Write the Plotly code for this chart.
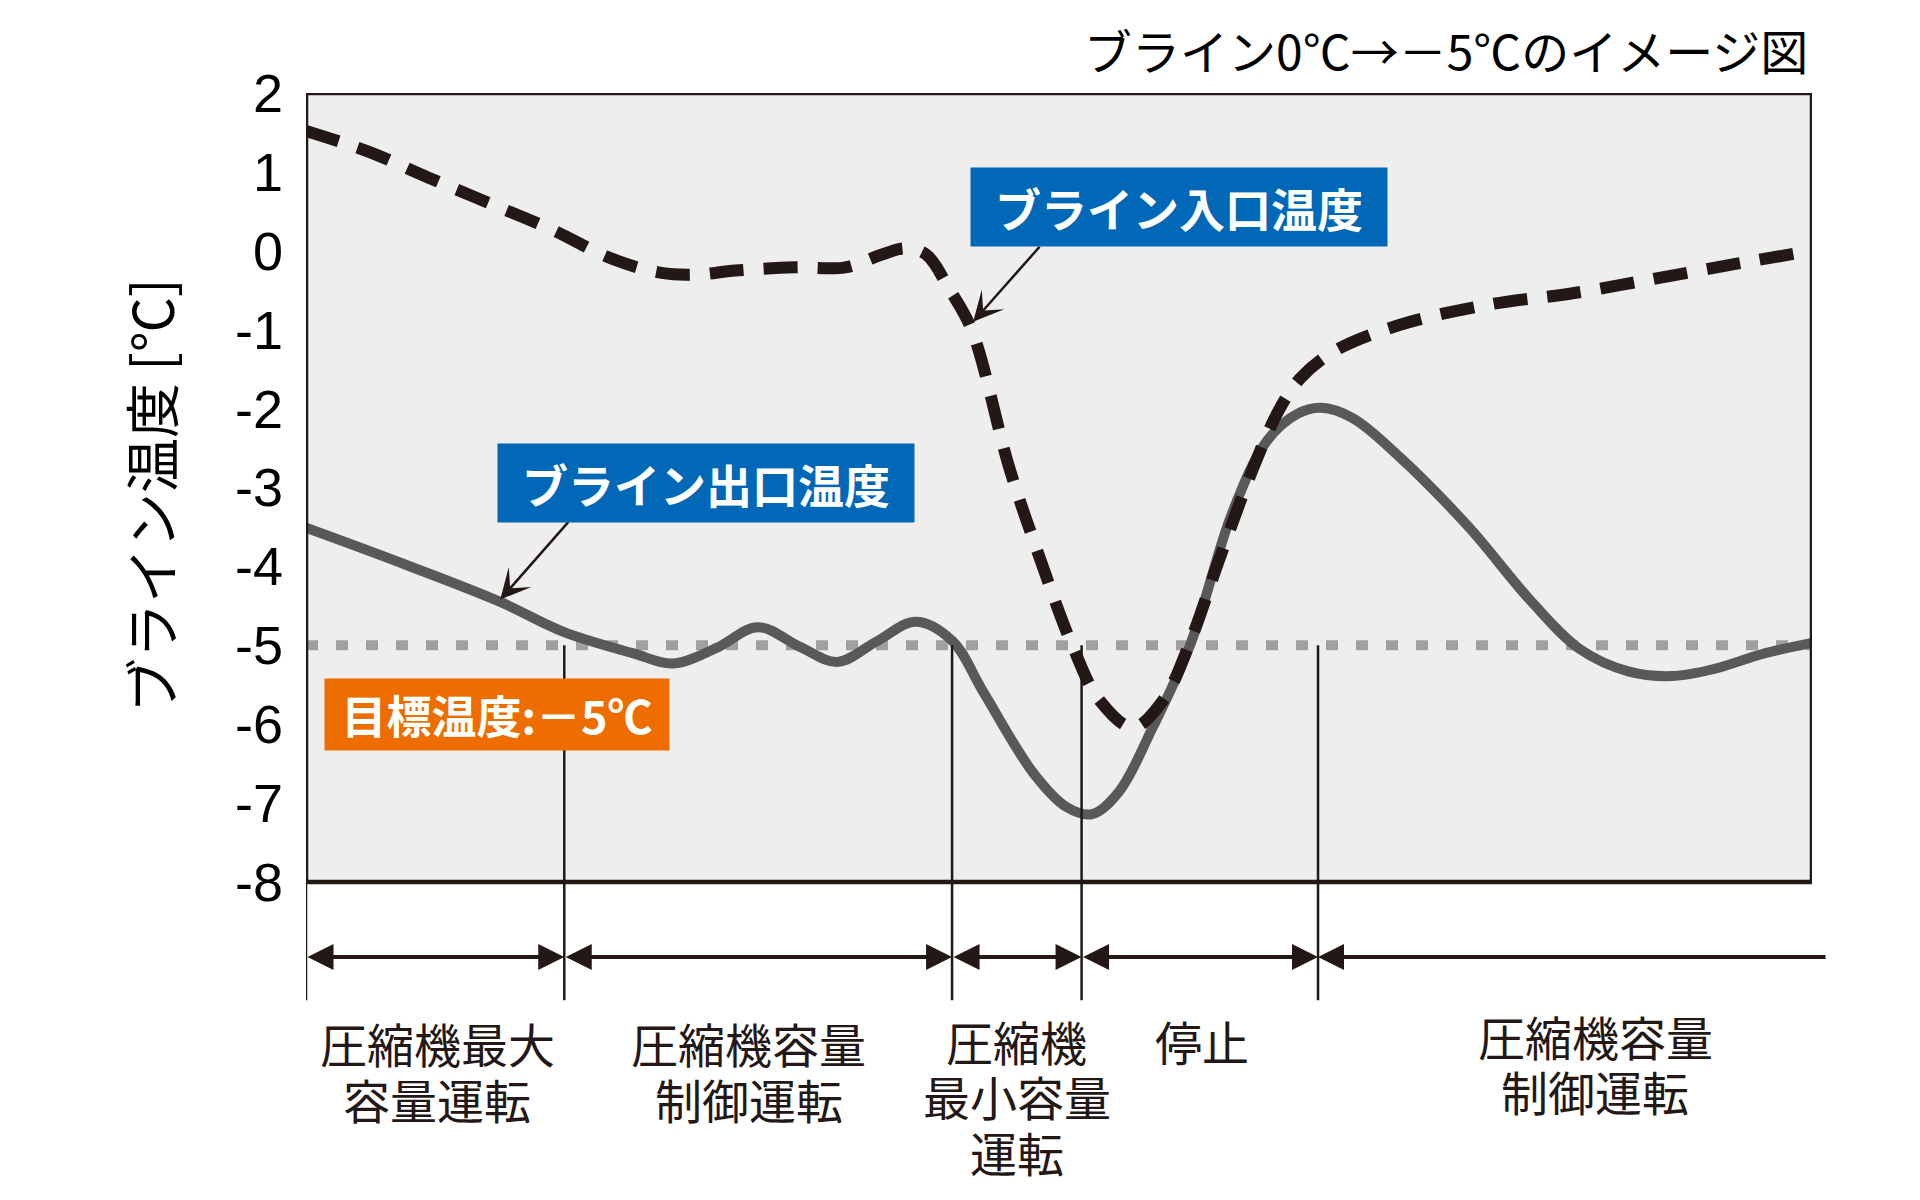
import plotly.graph_objects as go

# ---------------- data ----------------
outlet_x = [0, 6.5, 12.9, 17.1, 21.7, 24.4, 27.3, 30.0, 32.8, 35.3, 37.9, 40.5, 42.9, 45.0,
            48.3, 50.5, 52.2, 54.0, 56.2, 58.7, 61.5, 63.8, 65.8, 67.4, 69.5, 72.6, 77.2,
            81.3, 84.6, 87.8, 90.7, 93.5, 96.7, 100]
outlet_y = [-3.51, -3.97, -4.45, -4.83, -5.10, -5.23, -5.03, -4.77, -5.02, -5.21, -4.95, -4.70,
            -4.94, -5.60, -6.62, -7.05, -7.14, -6.85, -6.05, -5.00, -3.32, -2.41, -2.07, -1.99,
            -2.12, -2.61, -3.50, -4.43, -5.05, -5.33, -5.39, -5.30, -5.11, -4.97]

inlet_x = [0, 4.1, 8.1, 12.2, 16.3, 20.3, 23.6, 26.0, 28.5, 32.5, 35.8, 38.2, 39.8, 41.2,
           42.7, 44.2, 46.7, 48.7, 50.9, 52.7, 54.9, 56.9, 58.7, 60.7, 62.9, 64.6, 66.0,
           68.2, 72.6, 78.9, 83.7, 89.4, 95.1, 100]
inlet_y = [1.52, 1.26, 0.93, 0.60, 0.27, -0.10, -0.28, -0.30, -0.25, -0.21, -0.21, -0.05,
           0.03, -0.05, -0.48, -1.00, -2.75, -3.88, -5.01, -5.70, -6.04, -5.70, -4.96, -3.88,
           -2.75, -2.02, -1.62, -1.28, -0.94, -0.67, -0.55, -0.36, -0.16, 0.00]

target_temp = -5
y_ticks = [2, 1, 0, -1, -2, -3, -4, -5, -6, -7, -8]
y_tick_text = ["2", "1", "0", "-1", "-2", "-3", "-4", "-5", "-6", "-7", "-8"]

phase_edges = [0, 17.15, 42.9, 51.5, 67.2]
phase_row_end = 101
phase_row_y = -8.95
divider_bottom = -9.5
phase_label_lines = [["圧縮機最大", "容量運転"], ["圧縮機容量", "制御運転"],
                     ["圧縮機", "最小容量", "運転"], ["停止"], ["圧縮機容量", "制御運転"]]
phase_label_x = [8.7, 29.4, 47.2, 59.5, 85.6]
phase_label_y = [-10.04, -10.04, -10.01, -10.01, -9.94]   # centre of first line
phase_line_step = 0.70

title_text = "ブライン0℃→－5℃のイメージ図"
ytitle_text = "ブライン温度 [℃]"

box_texts = ["ブライン入口温度", "ブライン出口温度", "目標温度:－5℃"]
box_x = [57.95, 26.54, 12.7]
box_y = [0.556, -2.945, -5.88]
box_w = [416, 416, 344]
box_h = [78, 78, 71]
box_font = [46, 46, 45]
box_colors = ["#0068b7", "#0068b7", "#ed6d00"]
# arrows from box to curve
pointer_tail_x = [48.8, 17.5]
pointer_tail_y = [0.07, -3.42]
pointer_tip_x = [44.3, 12.9]
pointer_tip_y = [-0.90, -4.42]

# ---------------- layout constants ----------------
W, H = 1920, 1200
PL, PR, PT, PB = 306, 1812, 93, 882
X_MIN, X_MAX = 0, 100
Y_MAX, Y_MIN = 2, -8
y_lo = Y_MAX - (Y_MAX - Y_MIN) * (H - PT) / (PB - PT)

INK = "#231815"
CJK = "Noto Sans CJK JP"

fig = go.Figure()

fig.add_trace(go.Scatter(
    x=[X_MIN, X_MAX], y=[target_temp, target_temp], mode="lines",
    line=dict(color="#a0a0a0", width=10, dash="12px,18px"),
    hoverinfo="skip", showlegend=False))

fig.add_trace(go.Scatter(
    x=outlet_x, y=outlet_y, mode="lines",
    line=dict(color="#595959", width=10, shape="spline", smoothing=1.0),
    showlegend=False))

fig.add_trace(go.Scatter(
    x=inlet_x, y=inlet_y, mode="lines",
    line=dict(color=INK, width=12, shape="spline", smoothing=1.0, dash="34px,20px"),
    showlegend=False))

shapes = [
    dict(type="rect", xref="x", yref="y", x0=X_MIN, x1=X_MAX, y0=Y_MIN, y1=Y_MAX,
         fillcolor="#eeeeee", line=dict(width=0), layer="below"),
    dict(type="rect", xref="x", yref="y", x0=X_MIN, x1=X_MAX, y0=Y_MIN, y1=Y_MAX,
         fillcolor="rgba(0,0,0,0)", line=dict(color=INK, width=4.5), layer="above"),
    dict(type="line", xref="x", yref="y", x0=phase_edges[0], x1=phase_edges[0],
         y0=Y_MIN, y1=divider_bottom, line=dict(color=INK, width=2.5), layer="above"),
]
for e in phase_edges[1:]:
    shapes.append(dict(type="line", xref="x", yref="y", x0=e, x1=e,
                       y0=target_temp, y1=divider_bottom,
                       line=dict(color=INK, width=2.5), layer="above"))

annotations = []
# phase arrows
for i in range(len(phase_edges)):
    if i < len(phase_edges) - 1:
        annotations.append(dict(
            xref="x", yref="y", axref="x", ayref="y",
            x=phase_edges[i + 1], y=phase_row_y, ax=phase_edges[i], ay=phase_row_y,
            text="", showarrow=True, arrowside="end+start",
            arrowhead=2, startarrowhead=2, arrowsize=1.3, startarrowsize=1.3,
            arrowwidth=4, arrowcolor=INK, standoff=0, startstandoff=0))
    else:
        annotations.append(dict(
            xref="x", yref="y", axref="x", ayref="y",
            x=phase_edges[i], y=phase_row_y, ax=phase_row_end, ay=phase_row_y,
            text="", showarrow=True, arrowside="end",
            arrowhead=2, arrowsize=1.3, arrowwidth=4, arrowcolor=INK, standoff=0))

for lines, lx, ly in zip(phase_label_lines, phase_label_x, phase_label_y):
    for k, t in enumerate(lines):
        annotations.append(dict(xref="x", yref="y", x=lx, y=ly - k * phase_line_step,
                                text=t, showarrow=False,
                                xanchor="center", yanchor="middle", align="center",
                                font=dict(family=CJK, size=47, color=INK)))

# pointer arrows
for tx, ty, hx, hy in zip(pointer_tail_x, pointer_tail_y, pointer_tip_x, pointer_tip_y):
    annotations.append(dict(xref="x", yref="y", axref="x", ayref="y",
                            x=hx, y=hy, ax=tx, ay=ty, text="", showarrow=True,
                            arrowhead=3, arrowsize=2.0, arrowwidth=2.5,
                            arrowcolor=INK, standoff=0))

# coloured label boxes
for t, bx, by, bw, bh, bf, bc in zip(box_texts, box_x, box_y, box_w, box_h, box_font,
                                     box_colors):
    annotations.append(dict(xref="x", yref="y", x=bx, y=by, text=t, showarrow=False,
                            xanchor="center", yanchor="middle", width=bw, height=bh,
                            bgcolor=bc, borderpad=0, align="center", valign="middle",
                            font=dict(family=CJK, size=bf, color="white", weight="bold")))

# title & y-axis title
annotations.append(dict(xref="paper", yref="paper", x=1810 / W, y=1 - 49 / H,
                        xanchor="right", yanchor="middle", text=title_text, showarrow=False,
                        font=dict(family=CJK, size=48, color="black")))
annotations.append(dict(xref="paper", yref="paper", x=149 / W, y=1 - 496 / H,
                        xanchor="center", yanchor="middle", text=ytitle_text,
                        textangle=-90, showarrow=False,
                        font=dict(family=CJK, size=55, color="black")))

fig.update_layout(
    width=W, height=H, margin=dict(l=0, r=0, t=0, b=0, pad=0, autoexpand=False),
    paper_bgcolor="white", plot_bgcolor="white",
    showlegend=False,
    title=dict(text=""),
    xaxis=dict(domain=[PL / W, PR / W], range=[X_MIN, X_MAX], visible=False,
               fixedrange=True, automargin=False),
    yaxis=dict(domain=[0, 1 - PT / H], range=[y_lo, Y_MAX], tickmode="array",
               tickvals=y_ticks, ticktext=y_tick_text, ticks="", showgrid=False,
               zeroline=False, showline=False, ticklabelstandoff=22, automargin=False,
               tickfont=dict(family="Liberation Sans", size=54, color="black"),
               fixedrange=True),
    shapes=shapes,
    annotations=annotations,
)

fig.write_html("out.html", config={"displayModeBar": False},
               post_script="document.body.style.margin='0';")
